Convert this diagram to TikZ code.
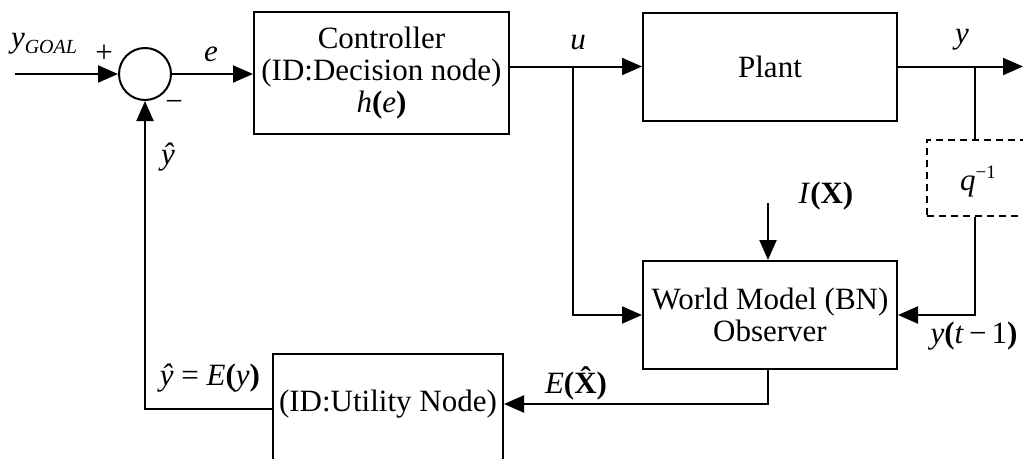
\documentclass[tikz,border=0pt]{standalone}
\usepackage{fontspec}
\setmainfont{Liberation Serif}
\usetikzlibrary{arrows.meta,calc}
\newcommand{\bp}[1]{\textbf{#1}}
\begin{document}
\begin{tikzpicture}[x=1pt,y=-1pt,
  font=\fontsize{31}{36}\selectfont,
  line width=2pt,
  blk/.style={draw,line width=2pt,inner sep=0pt,align=center},
  sig/.style={-{Triangle[length=20pt,width=17pt]}},
  lbl/.style={inner sep=0pt}]
\useasboundingbox (0,0) rectangle (1023,458);
% blocks
\node[blk,circle,minimum size=52pt] (sum) at (145,74) {};
\node[blk,minimum width=255pt,minimum height=122pt] (ctrl) at (381.5,73)
  {Controller\\[-4pt](ID:Decision node)\\[-4pt]\textit{h}\bp{(}\textit{e}\bp{)}};
\node[blk,minimum width=254pt,minimum height=108pt] (plant) at (770,66.5) {Plant};
\node[blk,minimum width=254pt,minimum height=108pt] (wm) at (770,315)
  {World Model (BN)\\[-4pt]Observer};
\node[blk,minimum width=230pt,minimum height=130pt] (util) at (388,419) {};
\node[lbl] (utiltxt) at (388,404) {(ID:Utility Node)};
\node[draw,dashed,line width=1.5pt,dash pattern=on 7pt off 5pt,minimum width=150pt,minimum height=76pt,inner sep=0pt] (delay) at (1002,178) {};
% coordinates
\coordinate (in) at (15,74);
\coordinate (out) at (1023,66.5);
\coordinate (ubr) at (573,66.5);
\coordinate (ybr) at (975,66.5);
\coordinate (ix) at (768,203);
% labels
\node[lbl] (ygoal) at (44,44) {\textit{y}\raisebox{-6pt}{\fontsize{20}{20}\selectfont\textit{GOAL}}};
\node[lbl] (plus) at (104,54) {+};
\node[lbl] (minus) at (174,106) {−};
\node[lbl] (elbl) at (211,54) {\textit{e}};
\node[lbl] (yhat) at (168,157) {\textit{ŷ}};
\node[lbl] (ulbl) at (578,43) {\textit{u}};
\node[lbl] (ylbl) at (962,40) {\textit{y}};
\node[lbl] (qlbl) at (978,182) {\textit{q}\raisebox{12pt}{\fontsize{19}{19}\selectfont −1}};
\node[lbl] (ixlbl) at (826,196) {\textit{I}\bp{(X)}};
\node[lbl] (ytlbl) at (974,336) {\textit{y}\bp{(}\textit{t}\,−\,1\bp{)}};
\node[lbl] (exlbl) at (576,383) {\textit{E}\bp{(\^{X})}};
\node[lbl] (yelbl) at (210,378) {\textit{ŷ} = \textit{E}\bp{(}\textit{y}\bp{)}};
% connectors
\draw[sig] (in) -- (sum.west);
\draw[sig] (sum.east) -- (ctrl.west |- sum.east);
\draw[sig] (ctrl.east |- plant.west) -- (plant.west);
\draw[sig] (plant.east) -- (out);
\draw (ybr) -- (ybr |- delay.north);
\draw[sig] (ybr |- delay.south) |- (wm.east);
\draw[sig] (ubr) |- (wm.west);
\draw[sig] (ix) -- (ix |- wm.north);
\draw[sig] (ix |- wm.south) |- (util.east |- utiltxt);
\draw[sig] (util.west |- 0,409) -| (sum.south);
\end{tikzpicture}
\end{document}
